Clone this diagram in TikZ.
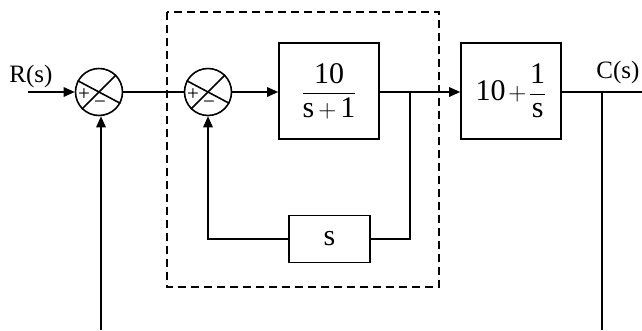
\documentclass[tikz,border=0pt]{standalone}
\usepackage{fontspec}
\usepackage{amsmath}
\setmainfont{Liberation Serif}
\usetikzlibrary{arrows.meta}
\tikzset{
  sumnode/.style={draw, circle, minimum size=47pt, inner sep=0pt},
  blockbox/.style={draw, rectangle, inner sep=0pt},
  sig/.style={-{Triangle[length=11pt,width=9.5pt]}},
  lbl/.style={font=\fontsize{25}{28}\selectfont, inner sep=0pt},
  signlbl/.style={font=\fontsize{21}{24}\selectfont, inner sep=0pt},
  boxtxt/.style={font=\fontsize{30}{34}\selectfont},
  dashbox/.style={dash pattern=on 8pt off 5pt, line width=1.6pt}
}
\begin{document}
\begin{tikzpicture}[x=1pt, y=-1pt, line width=1.6pt]
\useasboundingbox (0,0) rectangle (642,330);
% summing junctions
\node[sumnode] (sum1) at (99,92) {};
\node[sumnode] (sum2) at (208,92) {};
\foreach \s in {sum1,sum2}{
  \draw (\s.152) -- (\s.-28);
  \draw (\s.45) -- (\s.225);
  \node[signlbl, xshift=-15pt, yshift=-3pt] at (\s.center) {+};
  \node[signlbl, xshift=1pt, yshift=-13pt] at (\s.center) {\textminus};
}
% blocks
\node[blockbox, minimum width=100pt, minimum height=96pt, boxtxt] (g1) at (329,91)
  {$\displaystyle\frac{\text{10}}{\text{s}\mkern3mu{+}\mkern3mu\text{1}}$};
\node[blockbox, minimum width=100pt, minimum height=96pt, boxtxt] (g2) at (511,91)
  {$\displaystyle\text{10}\mkern2mu{+}\mkern2mu\frac{\text{1}}{\text{s}}$};
\node[blockbox, minimum width=81pt, minimum height=47pt, boxtxt] (h) at (329.5,239) {s};
% dashed inner loop frame
\draw[dashbox] (167,12) rectangle (439,287);
% labels
\node[lbl] (rlbl) at (31,76) {R(s)};
\node[lbl] (clbl) at (618,72) {C(s)};
% coordinates
\coordinate (rin) at (28,92);
\coordinate (k1) at (410,92);
\coordinate (b1) at (602,92);
\coordinate (cout) at (642,92);
\coordinate (fbend) at (602,330);
\coordinate (fbstart) at (101,330);
% connectors
\draw[sig] (rin) -- (sum1.west);
\draw (sum1.east) -- (sum2.west);
\draw[sig] (sum2.east) -- (g1.west |- sum2.east);
\draw[sig] (k1 -| g1.east) -- (k1 -| g2.west);
\draw (b1 -| g2.east) -- (cout);
\draw (k1) |- (h.east);
\draw[sig] (h.west) -| (sum2.south);
\draw (b1) -- (fbend);
\draw[sig] (fbstart) -- (sum1.south -| fbstart);
\end{tikzpicture}
\end{document}
